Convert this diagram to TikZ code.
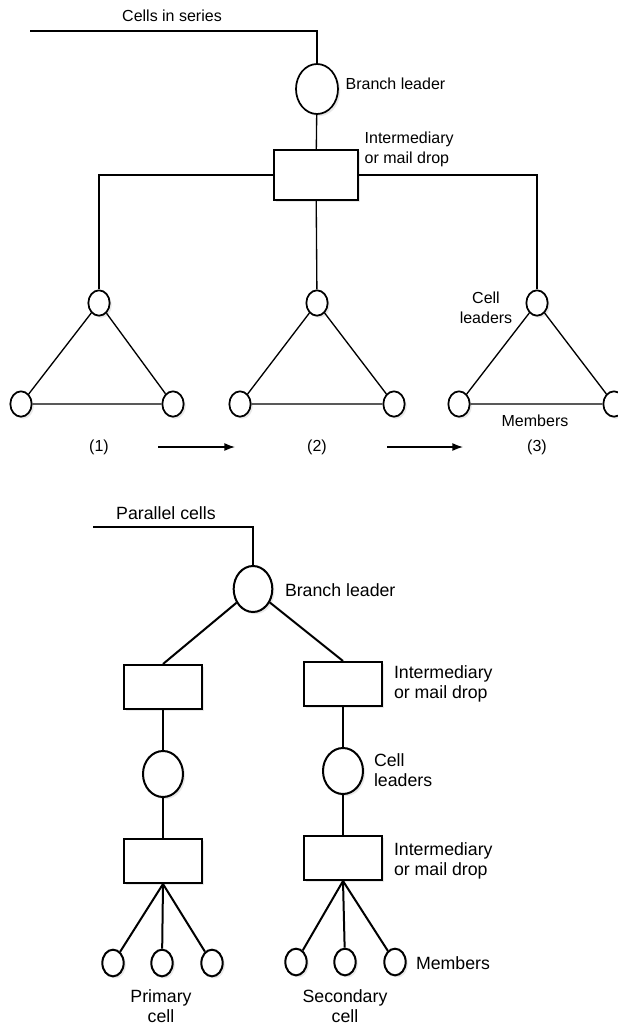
\documentclass[tikz,border=0pt]{standalone}
\usepackage{fontspec}
\setmainfont{Liberation Sans}
\usetikzlibrary{arrows.meta,shapes.geometric,shadows}

\tikzset{
  shade/.style={drop shadow={opacity=0.18, shadow xshift=1.6pt, shadow yshift=-1.6pt}},
  leader/.style={draw, ellipse, fill=white, inner sep=0pt, shade},
  mailbox/.style={draw, rectangle, fill=white, inner sep=0pt, shade},
  member/.style={draw, ellipse, fill=white, inner sep=0pt, minimum width=16pt, minimum height=19pt, shade},
  lbl/.style={inner sep=0pt, align=left},
}

\begin{document}
\begin{tikzpicture}[x=0.75pt, y=-0.75pt]
  \useasboundingbox (0,0) rectangle (617,1027);

  % Cells in series
  \begin{scope}[font=\fontsize{12}{15}\selectfont, line width=1pt]
    % Nodes with manual coordinates
    \node[lbl] (cis) at (172,16) {Cells in series};
    \coordinate (s1) at (30,31);
    \node[leader, line width=1.3pt, minimum width=31.5pt, minimum height=37.5pt] (bl1) at (317,89) {};
    \node[lbl, anchor=west] (bl1txt) at (345,84) {Branch leader};
    \node[mailbox, line width=1.25pt, minimum width=63pt, minimum height=37.5pt] (md1) at (316,175) {};
    \node[lbl, anchor=west] (md1txt) at (364,149) {Intermediary\\or mail drop};

    \node[member, line width=1.3pt] (cla) at (99,303) {};
    \node[member, line width=1.3pt] (clb) at (317,303) {};
    \node[member, line width=1.3pt] (clc) at (537,303) {};
    \node[member, line width=1.3pt] (ma1) at (21,404) {};
    \node[member, line width=1.3pt] (ma2) at (173,404) {};
    \node[member, line width=1.3pt] (mb1) at (240,404) {};
    \node[member, line width=1.3pt] (mb2) at (394,404) {};
    \node[member, line width=1.3pt] (mc1) at (459,404) {};
    \node[member, line width=1.3pt] (mc2) at (614,404) {};
    \node[lbl, align=center] (cltxt) at (486,308) {Cell\\leaders};
    \node[lbl] (memtxt) at (535,421) {Members};

    \node[lbl] (n1) at (99,447) {(1)};
    \node[lbl] (n2) at (317,447) {(2)};
    \node[lbl] (n3) at (537,447) {(3)};
    \coordinate (a1) at (158,447);
    \coordinate (a2) at (235,447);
    \coordinate (a3) at (387,447);
    \coordinate (a4) at (463,447);

    % Edges
    \draw (s1) -| (bl1);
    \draw (bl1) -- (md1);
    \draw (md1) -| (cla);
    \draw (md1) -- (clb);
    \draw (md1) -| (clc);
    \draw (cla) -- (ma1) -- (ma2) -- (cla);
    \draw (clb) -- (mb1) -- (mb2) -- (clb);
    \draw (clc) -- (mc1) -- (mc2) -- (clc);
    \draw[-{Latex[length=8pt, width=6pt]}] (a1) -- (a2);
    \draw[-{Latex[length=8pt, width=6pt]}] (a3) -- (a4);
  \end{scope}

  % Parallel cells
  \begin{scope}[font=\fontsize{13.3}{14.5}\selectfont, line width=1.5pt]
    % Nodes with manual coordinates
    \node[lbl] (pc) at (166,513) {Parallel cells};
    \coordinate (s2) at (93,527);
    \node[leader, minimum width=29pt, minimum height=34.5pt] (bl2) at (253,589) {};
    \node[lbl, anchor=west] (bl2txt) at (284,590) {Branch leader};

    \node[mailbox, minimum width=59pt, minimum height=33pt] (mdl) at (163,687) {};
    \node[mailbox, minimum width=59pt, minimum height=33pt] (mdr) at (343,684) {};
    \node[lbl, anchor=west] (mdrtxt) at (393,684) {Intermediary\\or mail drop};

    \node[leader, minimum width=30pt, minimum height=34.5pt] (cll) at (163,774) {};
    \node[leader, minimum width=30pt, minimum height=34.5pt] (clr) at (343,771) {};
    \node[lbl, anchor=west] (clrtxt) at (373,770) {Cell\\leaders};

    \node[mailbox, minimum width=59pt, minimum height=33pt] (pl) at (163,861) {};
    \node[mailbox, minimum width=59pt, minimum height=33pt] (pr) at (343,858) {};
    \node[lbl, anchor=west] (prtxt) at (393,861) {Intermediary\\or mail drop};

    \node[member, minimum height=20pt] (p1) at (113,963) {};
    \node[member, minimum height=20pt] (p2) at (162,963) {};
    \node[member, minimum height=20pt] (p3) at (212,963) {};
    \node[member, minimum height=20pt] (q1) at (296,962) {};
    \node[member, minimum height=20pt] (q2) at (345,962) {};
    \node[member, minimum height=20pt] (q3) at (395,962) {};
    \node[lbl, anchor=west] (qtxt) at (415,963) {Members};

    \node[lbl, align=center] (prim) at (161,1006) {Primary\\cell};
    \node[lbl, align=center] (sec) at (345,1006) {Secondary\\cell};

    % Edges
    \draw[line width=1pt] (s2) -| (bl2);
    \draw (bl2) -- (mdl.north);
    \draw (bl2) -- (mdr.north);
    \draw (mdl) -- (cll);
    \draw (mdr) -- (clr);
    \draw (cll) -- (pl);
    \draw (clr) -- (pr);
    \draw (pl.south) -- (p1);
    \draw (pl.south) -- (p2);
    \draw (pl.south) -- (p3);
    \draw (pr.south) -- (q1);
    \draw (pr.south) -- (q2);
    \draw (pr.south) -- (q3);
  \end{scope}
\end{tikzpicture}
\end{document}
